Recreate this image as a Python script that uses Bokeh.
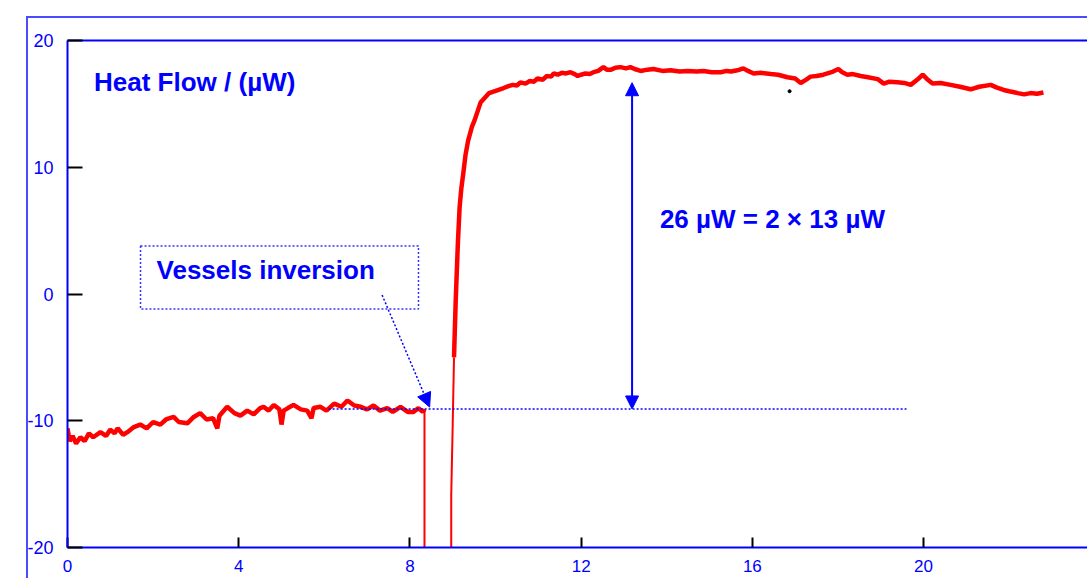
from bokeh.plotting import figure
from bokeh.models import (Range1d, LinearAxis, FixedTicker, Arrow, NormalHead,
                          BoxAnnotation, Label)
from bokeh.embed import file_html
from bokeh.resources import INLINE

# ---- data ----
time_a = [0.00, 0.05, 0.12, 0.20, 0.30, 0.40, 0.50, 0.60, 0.77, 0.90, 1.00, 1.10, 1.17,
          1.30, 1.40, 1.55, 1.70, 1.85, 2.00, 2.17, 2.30, 2.48, 2.60, 2.80, 2.95, 3.10,
          3.25, 3.40, 3.50, 3.55, 3.73, 3.90, 4.04, 4.20, 4.35, 4.50, 4.58, 4.70, 4.82,
          4.95, 5.00, 5.05, 5.15, 5.28, 5.45, 5.60, 5.70, 5.75, 5.91, 6.05, 6.23, 6.40,
          6.54, 6.70, 6.85, 7.00, 7.15, 7.30, 7.47, 7.60, 7.78, 7.95, 8.08, 8.20, 8.30,
          8.34, 8.34]
flow_a = [-10.6, -11.6, -11.2, -11.8, -11.3, -11.6, -11.0, -11.3, -10.9, -11.2, -10.7, -11.0,
          -10.6, -11.1, -10.9, -10.5, -10.3, -10.6, -10.1, -10.3, -9.9, -9.7, -10.1, -10.2,
          -9.7, -9.4, -9.9, -9.8, -10.6, -9.6, -8.9, -9.4, -9.6, -9.2, -9.5, -9.0, -8.9,
          -9.2, -8.75, -9.1, -10.3, -9.2, -9.0, -8.75, -9.1, -9.2, -9.8, -9.0, -8.9, -9.2,
          -8.65, -8.9, -8.4, -8.8, -8.9, -9.1, -8.8, -9.2, -9.0, -9.3, -8.9, -9.3, -9.3,
          -9.0, -9.3, -9.1, -21.0]

time_b = [8.965, 8.965, 9.00, 9.03, 9.07, 9.12, 9.16, 9.20, 9.25, 9.30, 9.36, 9.45, 9.51,
          9.65, 9.85, 10.19, 10.30, 10.40, 10.50, 10.58, 10.70, 10.80, 10.90, 10.98, 11.10,
          11.20, 11.30, 11.36, 11.45, 11.55, 11.65, 11.75, 11.85, 11.92, 12.00, 12.10,
          12.20, 12.29, 12.40, 12.52, 12.60, 12.70, 12.80, 12.92, 13.05, 13.15, 13.25,
          13.39, 13.55, 13.69, 13.90, 14.09, 14.30, 14.49, 14.70, 14.86, 15.05, 15.26,
          15.40, 15.50, 15.65, 15.79, 15.90, 16.03, 16.20, 16.43, 16.60, 16.82, 17.00,
          17.13, 17.25, 17.36, 17.50, 17.66, 17.85, 18.01, 18.10, 18.22, 18.35, 18.53,
          18.70, 18.93, 19.07, 19.20, 19.39, 19.55, 19.70, 19.85, 19.98, 20.10, 20.21,
          20.40, 20.63, 20.85, 21.10, 21.30, 21.57, 21.70, 21.87, 22.00, 22.20, 22.35,
          22.50, 22.65, 22.80]
flow_b = [-21.0, -15.85, -10.2, -5.0, -0.5, 4.0, 6.8, 8.3, 9.6, 11.0, 12.1, 13.2, 13.7,
          15.1, 15.85, 16.25, 16.4, 16.5, 16.45, 16.7, 16.6, 16.8, 16.75, 17.0, 16.9,
          17.2, 17.15, 17.4, 17.3, 17.45, 17.4, 17.5, 17.35, 17.2, 17.3, 17.4,
          17.35, 17.5, 17.6, 17.9, 17.7, 17.7, 17.85, 17.9, 17.8, 17.9, 17.75,
          17.6, 17.7, 17.75, 17.6, 17.65, 17.55, 17.6, 17.55, 17.6, 17.5, 17.5,
          17.6, 17.55, 17.65, 17.8, 17.6, 17.4, 17.45, 17.35, 17.3, 17.1, 17.0,
          16.65, 16.9, 17.15, 17.2, 17.3, 17.5, 17.75, 17.5, 17.3, 17.35, 17.2,
          17.1, 16.95, 16.6, 16.75, 16.7, 16.65, 16.5, 16.9, 17.3, 16.9, 16.6,
          16.65, 16.5, 16.35, 16.15, 16.35, 16.5, 16.3, 16.1, 16.0, 15.85, 15.75,
          15.85, 15.8, 15.9]

stray_x = [16.87]
stray_y = [16.0]

x_ticks = [0, 4, 8, 12, 16, 20, 24]
y_ticks = [-20, -10, 0, 10, 20]
y_tick_text = {-20: "-20", -10: "-10", 0: "0", 10: "10", 20: "20"}

baseline_level = -9.07      # level before inversion
plateau_level = 16.67       # level after inversion
arrow_x = 13.19

BLUE = "#0000ff"
FRAME_BLUE = "#4a4aff"
FONT = "Liberation Sans"

p = figure(width=1087, height=578, x_range=Range1d(0, 23.83), y_range=Range1d(-20, 20),
           output_backend="svg", toolbar_location=None,
           min_border_left=67, min_border_right=0, min_border_top=40, min_border_bottom=31)
p.outline_line_color = None
p.xgrid.visible = False
p.ygrid.visible = False
p.background_fill_color = "white"
p.border_fill_color = None
# outer slide frame drawn as the figure's own background (behind a transparent border)
p.styles = {
    "background": (
        f"linear-gradient({FRAME_BLUE}, {FRAME_BLUE}) 27px 16px / 1200px 2px no-repeat, "
        f"linear-gradient({FRAME_BLUE}, {FRAME_BLUE}) 26px 16px / 2px 700px no-repeat, "
        "white"
    )
}

for ax in (p.xaxis[0], p.yaxis[0]):
    ax.axis_line_color = BLUE
    ax.axis_line_width = 2
    ax.major_tick_line_color = "black"
    ax.major_tick_line_width = 2
    ax.major_tick_out = 0
    ax.minor_tick_line_color = None
    ax.major_label_text_color = BLUE
    ax.major_label_text_font = FONT

p.xaxis.ticker = FixedTicker(ticks=x_ticks)
p.xaxis.major_tick_in = 10
p.xaxis.major_label_standoff = 12
p.xaxis.major_label_text_font_size = "17px"
p.yaxis.ticker = FixedTicker(ticks=y_ticks)
p.yaxis.major_label_overrides = y_tick_text
p.yaxis.major_tick_in = 15
p.yaxis.major_label_standoff = 14
p.yaxis.major_label_text_font_size = "18px"

top = LinearAxis(ticker=FixedTicker(ticks=[]), axis_line_color=BLUE, axis_line_width=2,
                 major_tick_line_color=None, minor_tick_line_color=None,
                 major_label_text_font_size="0px", major_label_standoff=0)
p.add_layout(top, "above")

# data
p.line(time_a[:-1], flow_a[:-1], line_color="red", line_width=4.5)
p.line(time_a[-2:], flow_a[-2:], line_color="red", line_width=2)
p.line(time_b[:4], flow_b[:4], line_color="red", line_width=2)
p.line(time_b[3:], flow_b[3:], line_color="red", line_width=4.5)
p.scatter(stray_x, stray_y, size=3, color="black")

# dotted reference level
p.line([6.1, 19.6], [baseline_level, baseline_level], line_color=BLUE, line_width=1.5,
       line_dash="2 2")

# double arrow
p.add_layout(Arrow(x_start=arrow_x, y_start=baseline_level, x_end=arrow_x, y_end=plateau_level,
                   line_color=BLUE, line_width=2,
                   start=NormalHead(size=13, fill_color=BLUE, line_color=BLUE),
                   end=NormalHead(size=13, fill_color=BLUE, line_color=BLUE)))

# vessels inversion box + pointer
p.add_layout(BoxAnnotation(left=1.706, right=8.20, top=3.79, bottom=-1.18,
                           fill_alpha=0, line_color=BLUE, line_width=1.5, line_dash="2 2",
                           line_alpha=0.8))
p.add_layout(Arrow(x_start=7.35, y_start=-0.08, x_end=8.46, y_end=-8.92,
                   line_color=BLUE, line_width=1.5, line_dash="2 2",
                   end=NormalHead(size=14, fill_color=BLUE, line_color=BLUE, line_dash="solid")))

p.add_layout(Label(x=0.62, y=16.70, text="Heat Flow / (µW)", text_font=FONT,
                   text_font_style="bold", text_font_size="26px", text_color=BLUE,
                   text_baseline="alphabetic"))
p.add_layout(Label(x=2.08, y=1.88, text="Vessels inversion", text_font=FONT,
                   text_font_style="bold", text_font_size="26px", text_color=BLUE,
                   text_baseline="alphabetic"))
p.add_layout(Label(x=13.84, y=5.90, text="26 µW = 2 × 13 µW", text_font=FONT,
                   text_font_style="bold", text_font_size="26px", text_color=BLUE,
                   text_baseline="alphabetic"))

open("out.html", "w").write(file_html(p, INLINE))
